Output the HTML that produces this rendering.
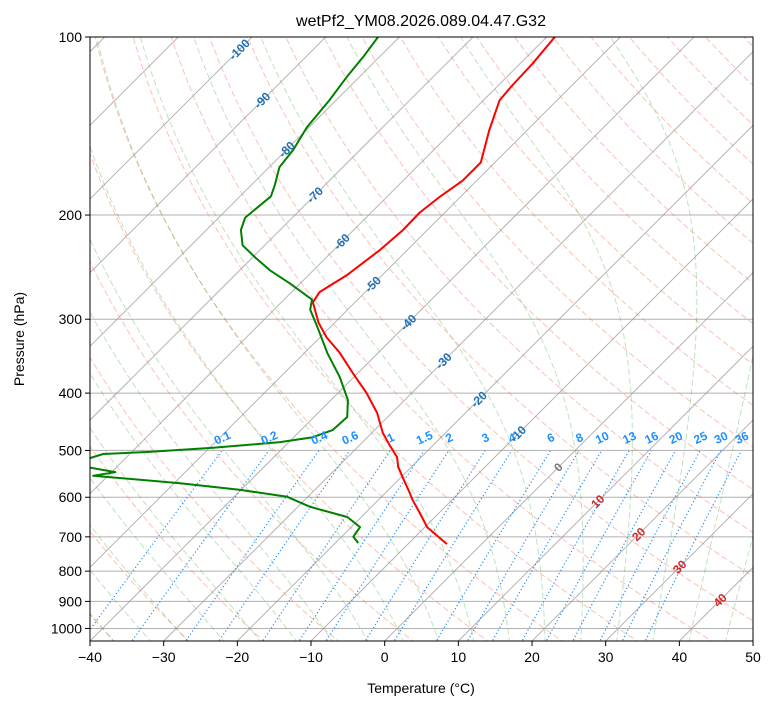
<!DOCTYPE html>
<html><head><meta charset="utf-8">
<style>
body{margin:0;background:#fff;}
svg{display:block;font-family:"Liberation Sans","DejaVu Sans",sans-serif;}
</style></head>
<body>
<svg id="chart" width="775" height="708" viewBox="0 0 775 708" xmlns="http://www.w3.org/2000/svg">
<defs><clipPath id="clip"><rect x="90" y="37" width="663" height="604"/></clipPath></defs>
<rect width="775" height="708" fill="#fff"/>
<text x="421" y="26" text-anchor="middle" font-size="16" fill="#000">wetPf2_YM08.2026.089.04.47.G32</text>
<g id="bg" clip-path="url(#clip)"></g>
<g id="series" clip-path="url(#clip)"></g>
<g id="labels"></g>
<rect x="90" y="37" width="663" height="604" fill="none" stroke="#000" stroke-width="1"/>
<g id="axes"></g>
<text x="421" y="693" text-anchor="middle" font-size="14">Temperature (°C)</text>
<text transform="translate(24,339) rotate(-90)" text-anchor="middle" font-size="14">Pressure (hPa)</text>
</svg>
<script>
const tempP = [720,674,638,607,590,555,533,513,490,467,432,400,370,342,322,304,281,270,253,229,212,198,186,175,163,144,128,121,111,100];
const tempT = [-4.7,-9.7,-12.6,-15.3,-16.7,-19.8,-21.8,-23.3,-25.9,-28.5,-32.0,-36.1,-40.7,-45.2,-49.1,-52.2,-55.7,-56.2,-54.8,-53.7,-53.3,-53.4,-52.8,-51.9,-51.9,-55.1,-57.8,-58.1,-58.3,-58.9];
const dewP = [717,700,674,648,623,599,583,568,552,544,533,523,515,507,503,495,484,475,462,439,411,376,342,309,289,278,261,248,236,225,212,202,194,186,178,166,155,142,128,117,108,100];
const dewT = [-16.9,-18.4,-18.8,-21.9,-28.3,-32.8,-40.1,-49.2,-62.0,-59.5,-64.3,-65.7,-64.8,-63.6,-57.9,-49.5,-41.2,-37.4,-35.7,-35.5,-37.7,-41.9,-46.9,-51.8,-55.1,-56.2,-61.4,-65.9,-69.6,-73.0,-75.3,-76.4,-76.1,-75.8,-76.8,-78.6,-79.1,-80.3,-80.9,-81.7,-82.2,-82.9];
const xTicks = [-40,-30,-20,-10,0,10,20,30,40,50];
const pTicks = [100,200,300,400,500,600,700,800,900,1000];
const isoLabels = [-100,-90,-80,-70,-60,-50,-40,-30,-20,-10,0,10,20,30,40];
const isoLabelP = [105,128,155,185,222,262,304,353,410,469,534,610,693,787,896];
const mixVals = [0.1,0.2,0.4,0.6,1,1.5,2,3,4,6,8,10,13,16,20,25,30,36];
const mixLabels = ["0.1","0.2","0.4","0.6","1","1.5","2","3","4","6","8","10","13","16","20","25","30","36"];

const NS="http://www.w3.org/2000/svg";
const L=90,R=753,T0=37,B=641,PX=7.367;
function yp(p){return T0+256.87*Math.log(p/100);}
function xp(t,p){return L+(t+40)*PX+(B-yp(p));}
function mk(tag,attrs,parent){const e=document.createElementNS(NS,tag);for(const k in attrs)e.setAttribute(k,attrs[k]);parent.appendChild(e);return e;}
const bg=document.getElementById('bg'),series=document.getElementById('series'),labels=document.getElementById('labels'),axes=document.getElementById('axes');
function poly(pts,attrs,parent){return mk('polyline',Object.assign({points:pts.map(q=>q[0].toFixed(1)+','+q[1].toFixed(1)).join(' '),fill:'none'},attrs),parent);}

pTicks.forEach(p=>{const e=mk('line',{x1:L,x2:R,y1:yp(p),y2:yp(p),stroke:'#b0b0b0','stroke-width':1},bg);

});
for(let th=233.15;th<=483.15;th+=10){const pts=[];for(let p=1060;p>=95;p-=10){const t=th*Math.pow(p/1000,0.2857)-273.15;pts.push([xp(t,p),yp(p)]);}
const e=poly(pts,{stroke:'#f4785a','stroke-opacity':0.45,'stroke-width':1,'stroke-dasharray':'6,3'},bg);

}
function es(t){return 6.112*Math.exp(17.67*t/(t+243.5));}
function dTdp(tc,p){const Tk=tc+273.15,rs=0.622*es(tc)/(p-es(tc)),Rd=287.04,Cp=1005.7,Lv=2.501e6,eps=0.622;
return (Rd*Tk+Lv*rs)/(p*(Cp+Lv*Lv*rs*eps/(Rd*Tk*Tk)));}
for(let t0=-40;t0<=50;t0+=5){const pts=[];let t,p;
let tt=t0;for(let q=1000;q<1060;q+=2){tt+=dTdp(tt,q)*2;}
t=tt;p=1060;
while(p>=95){pts.push([xp(t,p),yp(p)]);const h=-2;t+=dTdp(t,p)*h;p+=h;}
const e=poly(pts,{stroke:'#2ca02c','stroke-opacity':0.3,'stroke-width':1,'stroke-dasharray':'6,3'},bg);

}
for(let t=-150;t<=50;t+=10){const e=mk('line',{x1:xp(t,1060),y1:yp(1060),x2:xp(t,95),y2:yp(95),stroke:'#999','stroke-opacity':0.75,'stroke-width':1},bg);

}
function tdw(w,p){const e=w*p/(622+w);const a=Math.log(e/6.112);return 243.5*a/(17.67-a);}
mixVals.forEach((w,i)=>{const pts=[];for(let p=1060;p>=500;p-=10)pts.push([xp(tdw(w,p),p),yp(p)]);
const e=poly(pts,{stroke:'#1e90ff','stroke-width':1.2,'stroke-dasharray':'1.2,2.4'},bg);


const x=xp(tdw(w,500),500)+2,y=yp(500)-9;
const tx=mk('text',{x:x,y:y,'text-anchor':'middle','font-size':12,'font-weight':'bold',fill:'#1e90ff',transform:`rotate(-25 ${x} ${y})`},labels);
tx.textContent=mixLabels[i];

});
isoLabels.forEach((t,i)=>{const p=isoLabelP[i],x=xp(t,p),y=yp(p);const c=t<0?'#1f6fb4':(t==0?'#777':'#d62728');
const tx=mk('text',{x:x,y:y+4,'text-anchor':'middle','font-size':12,'font-weight':'bold',fill:c,transform:`rotate(-45 ${x} ${y})`},labels);
tx.textContent=String(t);

});
const tl=poly(tempP.map((p,i)=>[xp(tempT[i],p),yp(p)]),{stroke:'#ff0000','stroke-width':2,'stroke-linejoin':'round'},series);


const dl=poly(dewP.map((p,i)=>[xp(dewT[i],p),yp(p)]),{stroke:'#008000','stroke-width':2,'stroke-linejoin':'round'},series);


xTicks.forEach(t=>{const x=L+(t+40)*PX;mk('line',{x1:x,x2:x,y1:B,y2:B+5,stroke:'#000'},axes);
const tx=mk('text',{x:x,y:B+21,'text-anchor':'middle','font-size':14},axes);tx.textContent=(t<0?'\u2212'+(-t):String(t));

});
pTicks.forEach(p=>{const y=yp(p);mk('line',{x1:L-5,x2:L,y1:y,y2:y,stroke:'#000'},axes);
const tx=mk('text',{x:L-8,y:y+5,'text-anchor':'end','font-size':14},axes);tx.textContent=String(p);

});
</script>
</body></html>
